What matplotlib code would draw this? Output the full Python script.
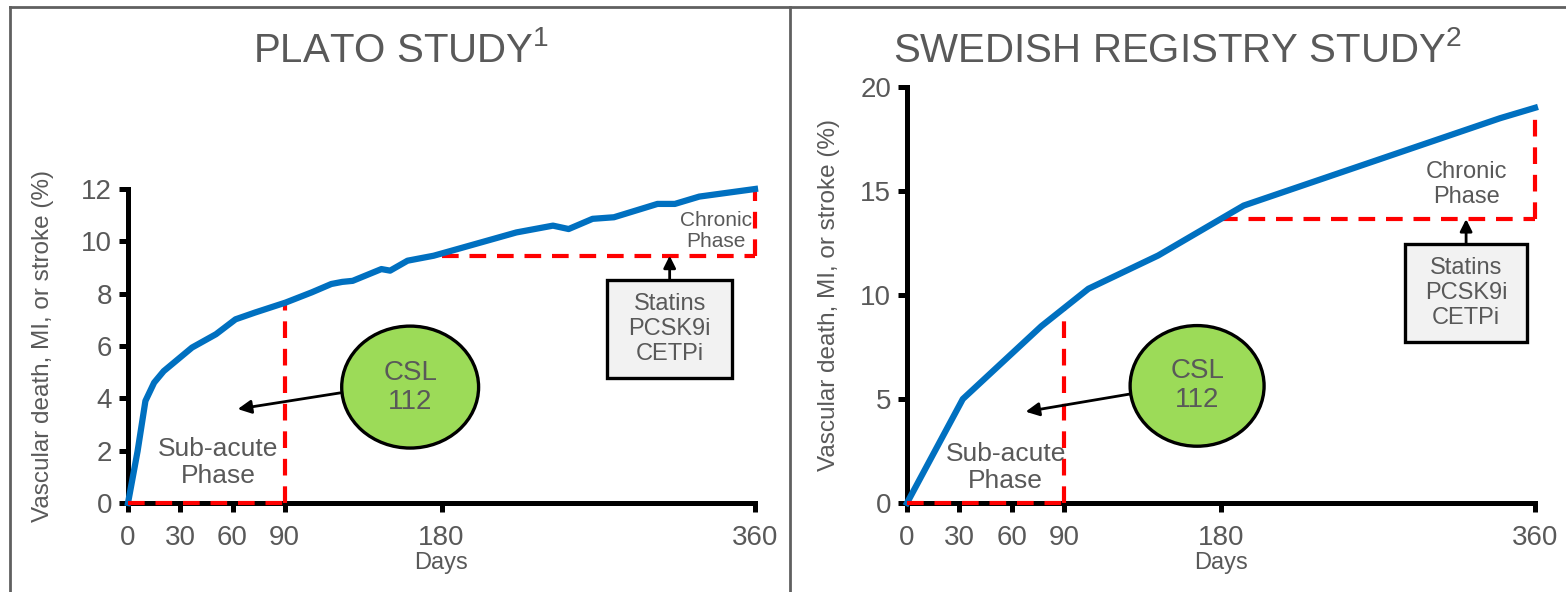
import matplotlib
matplotlib.use("Agg")
import matplotlib.pyplot as plt
from matplotlib.patches import Ellipse, Rectangle
from matplotlib.lines import Line2D

plt.rcParams['font.family'] = ['Liberation Sans', 'DejaVu Sans']
plt.rcParams['mathtext.fontset'] = 'custom'
plt.rcParams['mathtext.rm'] = 'Liberation Sans'
plt.rcParams['mathtext.it'] = 'Liberation Sans'
plt.rcParams['mathtext.bf'] = 'Liberation Sans'

# ---- data ----
x_ticks = [0, 30, 60, 90, 180, 360]

plato_days = [0, 5.5, 10, 15, 20.5, 36.75, 50.5, 61.75, 73, 90.5, 105.5, 116.75, 123, 129,
              145.5, 150.5, 160.5, 175.5, 190.5, 223, 244, 253, 266.75, 279, 304, 314, 328, 360]
plato_vals = [0, 1.98, 3.9, 4.6, 5.04, 5.94, 6.45, 7.02, 7.28, 7.66, 8.05, 8.37, 8.45, 8.49,
              8.94, 8.88, 9.26, 9.45, 9.73, 10.34, 10.6, 10.47, 10.86, 10.92, 11.43, 11.43, 11.71, 12.0]
plato_yticks = [0, 2, 4, 6, 8, 10, 12]
plato_subacute_end = 7.6      # curve value at day 90
plato_chronic_start = 9.45    # curve value at day 180
plato_end = 12.0

swed_days = [0, 32, 77, 104, 144, 193, 340, 360]
swed_vals = [0, 5.0, 8.5, 10.3, 11.9, 14.3, 18.5, 19.0]
swed_yticks = [0, 5, 10, 15, 20]
swed_subacute_end = 9.4
swed_chronic_start = 13.65
swed_end = 19.0

titles = ["PLATO STUDY$^{1}$", "SWEDISH REGISTRY STUDY$^{2}$"]
ylabel = "Vascular death, MI, or stroke (%)"
xlabel = "Days"

TXT = '#595959'
BLUE = '#0070C0'
RED = '#FF0000'
GREEN = '#9CDB58'

fig = plt.figure(figsize=(15.66, 5.92), dpi=100)

ax1 = fig.add_axes([128/1566, 1-503/592, (755-128)/1566, (503-189)/592])
ax2 = fig.add_axes([907/1566, 1-503/592, (1535-907)/1566, (503-87)/592])

def style(ax, ymax, yticks, ylabx):
    ax.set_xlim(0, 360)
    ax.set_ylim(0, ymax)
    for s in ['top', 'right']:
        ax.spines[s].set_visible(False)
    for s in ['left', 'bottom']:
        ax.spines[s].set_linewidth(3.6)
        ax.spines[s].set_color('black')
        ax.spines[s].set_capstyle('projecting')
    ax.set_xticks(x_ticks)
    ax.set_yticks(yticks)
    ax.tick_params(direction='out', length=6.5, width=3.6, color='black',
                   labelsize=20, labelcolor=TXT)
    ax.tick_params(axis='x', pad=9)
    ax.tick_params(axis='y', pad=5)
    ax.set_xlabel(xlabel, fontsize=17, color=TXT, labelpad=1)
    ax.set_ylabel(ylabel, fontsize=17.5, color=TXT)
    ax.yaxis.set_label_coords(ylabx, 0.5)

dash = (0, (4, 2.6))

def panel(ax, days, vals, ymax, yticks, sub_end, chr_start, end_val,
          ell, arrow, subtxt, box, chrtxt, chr_fs, ylabx):
    style(ax, ymax, yticks, ylabx)
    ax.plot(days, vals, color=BLUE, lw=4.5, zorder=4, solid_joinstyle='round', clip_on=False)
    # dashed phase outlines
    ax.plot([0, 90], [0, 0], color=RED, lw=3, linestyle=dash, zorder=5, clip_on=False)
    ax.plot([90, 90], [0, sub_end], color=RED, lw=3, linestyle=dash, zorder=3, clip_on=False)
    ax.plot([180, 360], [chr_start, chr_start], color=RED, lw=3, linestyle=dash, zorder=3, clip_on=False)
    ax.plot([360, 360], [chr_start, end_val], color=RED, lw=3, linestyle=dash, zorder=3, clip_on=False)
    # CSL 112 ellipse
    ex, ey, ew, eh = ell
    ax.add_patch(Ellipse((ex, ey), ew, eh, facecolor=GREEN, edgecolor='black', lw=2.4, zorder=6))
    ax.text(ex, ey, "CSL\n112", ha='center', va='center', fontsize=20, color=TXT,
            zorder=7, linespacing=1.15)
    (ax0, ay0), (ax1_, ay1) = arrow
    ax.annotate("", xy=(ax1_, ay1), xytext=(ax0, ay0),
                arrowprops=dict(arrowstyle='-|>', color='black', lw=2, mutation_scale=20,
                                shrinkA=0, shrinkB=0), zorder=6)
    ax.text(subtxt[0], subtxt[1], "Sub-acute\nPhase", ha='center', va='center', fontsize=19,
            color=TXT, zorder=7, linespacing=1.15)
    # statins box
    bx0, by0, bx1, by1 = box
    ax.add_patch(Rectangle((bx0, by0), bx1-bx0, by1-by0, facecolor='#F2F2F2',
                           edgecolor='black', lw=2.4, zorder=6))
    ax.text((bx0+bx1)/2, (by0+by1)/2, "Statins\nPCSK9i\nCETPi", ha='center', va='center',
            fontsize=17, color=TXT, zorder=7, linespacing=1.2)
    ax.annotate("", xy=((bx0+bx1)/2, chr_start), xytext=((bx0+bx1)/2, by1),
                arrowprops=dict(arrowstyle='-|>', color='black', lw=2, mutation_scale=18,
                                shrinkA=0, shrinkB=0), zorder=6)
    ax.text(chrtxt[0], chrtxt[1], "Chronic\nPhase", ha='center', va='center', fontsize=chr_fs,
            color=TXT, zorder=7, linespacing=1.15)

panel(ax1, plato_days, plato_vals, 12, plato_yticks, plato_subacute_end, plato_chronic_start, plato_end,
      ell=(162, 4.43, 78.6, 4.66), arrow=((122, 4.21), (63, 3.59)), subtxt=(51.7, 1.55),
      box=(275, 4.78, 347, 8.52), chrtxt=(337.5, 10.4), chr_fs=15, ylabx=-0.118)

panel(ax2, swed_days, swed_vals, 20, swed_yticks, swed_subacute_end, swed_chronic_start, swed_end,
      ell=(166.3, 5.63, 76.8, 5.8), arrow=((127.9, 5.24), (68, 4.39)), subtxt=(56.5, 1.7),
      box=(285.5, 7.74, 355.5, 12.45), chrtxt=(320.8, 15.3), chr_fs=17, ylabx=-0.107)

fig.text(401/1566, 1-50/592, titles[0], ha='center', va='center', fontsize=29, color=TXT)
fig.text(1178/1566, 1-50/592, titles[1], ha='center', va='center', fontsize=29, color=TXT)

# frame lines
fc = '#606060'
fig.add_artist(Line2D([10/1566, 1], [1-7/592, 1-7/592], color=fc, lw=2, transform=fig.transFigure))
fig.add_artist(Line2D([10/1566, 10/1566], [0, 1-7/592], color=fc, lw=2, transform=fig.transFigure))
fig.add_artist(Line2D([790/1566, 790/1566], [0, 1-7/592], color=fc, lw=2, transform=fig.transFigure))

fig.savefig("out.png", dpi=100)
